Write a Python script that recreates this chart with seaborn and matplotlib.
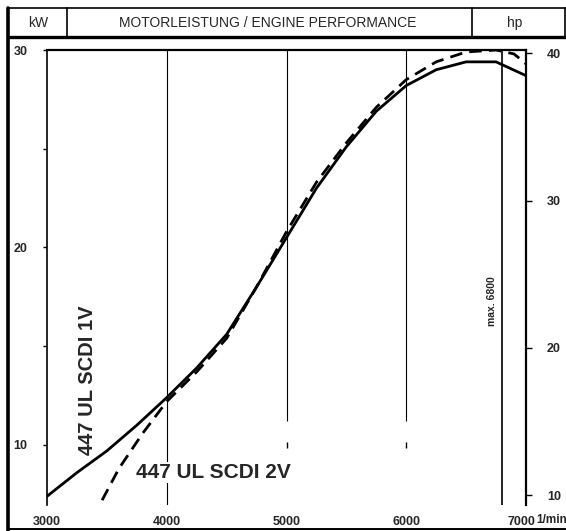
"""Engine performance curve (kW / hp over rpm) recreated with seaborn."""

import matplotlib

matplotlib.use('Agg')

import matplotlib.pyplot as plt
import matplotlib.transforms as mtransforms
import pandas as pd
import seaborn as sns
from matplotlib.lines import Line2D

# --- data ---
rpm_1v = [3000, 3250, 3500, 3750, 4000, 4250, 4500, 4750, 5000, 5250,
          5500, 5750, 6000, 6250, 6500, 6750, 7000]
kw_1v = [7.4, 8.6, 9.7, 11.0, 12.4, 13.9, 15.6, 18.0, 20.5, 23.0,
         25.1, 26.9, 28.2, 29.0, 29.4, 29.4, 28.7]

rpm_2v = [3460, 3600, 3800, 4000, 4250, 4500, 4750, 5000, 5250, 5500,
          5750, 6000, 6250, 6500, 6750, 6900, 7000]
kw_2v = [7.2, 8.8, 10.6, 12.2, 13.7, 15.4, 18.0, 20.8, 23.3, 25.3,
         27.1, 28.5, 29.4, 29.9, 30.0, 29.8, 29.3]

rpm_ticks = [3000, 4000, 5000, 6000, 7000]
kw_ticks = [10, 20, 30]
kw_minor = [15, 25]
hp_ticks = [10, 20, 30, 40]
max_rpm = 6800
KW_PER_HP = 0.7457

W, H = 566, 531


def fx(px):
    return px / W


def fy(py):
    return 1 - py / H


def main():
    sns.set_theme(style='white')
    plt.rcParams['font.family'] = ['Liberation Sans', 'DejaVu Sans']

    df = pd.concat([
        pd.DataFrame({'rpm': rpm_1v, 'kw': kw_1v, 'series': '1V'}),
        pd.DataFrame({'rpm': rpm_2v, 'kw': kw_2v, 'series': '2V'}),
    ])

    fig = plt.figure(figsize=(W / 100, H / 100), dpi=100)
    ax = fig.add_axes([fx(47), fy(505), fx(526) - fx(47), fy(50) - fy(505)])
    ax.set_xlim(3000, 7000)
    ax.set_ylim(6.96, 30)

    # vertical rpm lines (5000/6000 stop short, as on the scan)
    ax.vlines(4000, 6.96, 30, color='black', lw=0.8)
    ax.vlines(rpm_ticks[2:4], 11.2, 30, color='black', lw=0.8)
    ax.vlines(rpm_ticks[2:4], 9.85, 10.15, color='black', lw=1.0)
    ax.axvline(max_rpm, color='black', lw=1.2)

    sns.lineplot(data=df, x='rpm', y='kw', style='series', color='black',
                 dashes={'1V': '', '2V': (4.5, 2.6)}, linewidth=2.0,
                 sort=False, legend=False, ax=ax)
    ax.set_xlabel('')
    ax.set_ylabel('')

    ax.text(max_rpm - 85, 17.3, 'max. 6800', rotation=90, ha='center',
            va='center', fontsize=7.5, fontweight='heavy')

    ax.spines['bottom'].set_visible(False)
    ax.spines['left'].set_linewidth(1.2)
    ax.spines['top'].set_linewidth(1.6)
    ax.spines['right'].set_linewidth(1.6)
    for s in ax.spines.values():
        s.set_color('black')

    ax.set_xticks(rpm_ticks)
    ax.set_xticklabels([str(r) for r in rpm_ticks], fontsize=9,
                       fontweight='heavy')
    ax.tick_params(axis='x', length=0, pad=8)
    last = ax.get_xticklabels()[-1]
    last.set_transform(last.get_transform() + mtransforms.ScaledTranslation(
        -5 / 100, 0, fig.dpi_scale_trans))

    ax.set_yticks(kw_ticks)
    ax.set_yticks(kw_minor, minor=True)
    ax.set_yticklabels([str(k) for k in kw_ticks], fontsize=9,
                       fontweight='heavy')
    ax.tick_params(axis='y', which='both', direction='out', length=3,
                   width=1, color='black', left=True, pad=11)

    # hp axis on the 7000 rpm line
    ax2 = ax.twinx()
    ax2.set_ylim(6.96 / KW_PER_HP, 30 / KW_PER_HP)
    ax2.set_yticks(hp_ticks)
    ax2.set_yticklabels([str(h) for h in hp_ticks], fontsize=9,
                        fontweight='heavy')
    ax2.tick_params(axis='y', direction='out', length=4, width=1,
                    color='black', right=True, pad=11)
    for s in ax2.spines.values():
        s.set_visible(False)
    ax2.grid(False)

    ax.text(3342, 13.3, '447 UL SCDI 1V', rotation=90, ha='center',
            va='center', fontsize=14.5, fontweight='bold')
    ax.text(3745, 8.6, '447 UL SCDI 2V', ha='left', va='center',
            fontsize=15, fontweight='bold',
            bbox=dict(facecolor='white', edgecolor='none', pad=0.5))

    fig.text(fx(552), fy(520), '1/min', ha='center', va='center',
             fontsize=8.5, fontweight='heavy')

    # frame and header row
    def line(x0, y0, x1, y1, lw):
        fig.add_artist(Line2D([fx(x0), fx(x1)], [fy(y0), fy(y1)],
                              transform=fig.transFigure, color='black', lw=lw))

    line(8, 8, 8, 531, 2.6)
    line(8, 8, 566, 8, 1.2)
    line(8, 37, 566, 37, 2.4)
    line(8, 529, 566, 529, 1.4)
    line(67, 8, 67, 37, 1.2)
    line(472, 8, 472, 37, 1.2)
    line(565, 8, 565, 37, 1.2)

    fig.text(fx(38), fy(23), 'kW', ha='center', va='center', fontsize=10)
    fig.text(fx(268), fy(23), 'MOTORLEISTUNG / ENGINE PERFORMANCE',
             ha='center', va='center', fontsize=10)
    fig.text(fx(515), fy(23), 'hp', ha='center', va='center', fontsize=10)

    fig.savefig('out.png', dpi=100)
    plt.close(fig)


if __name__ == '__main__':
    main()
